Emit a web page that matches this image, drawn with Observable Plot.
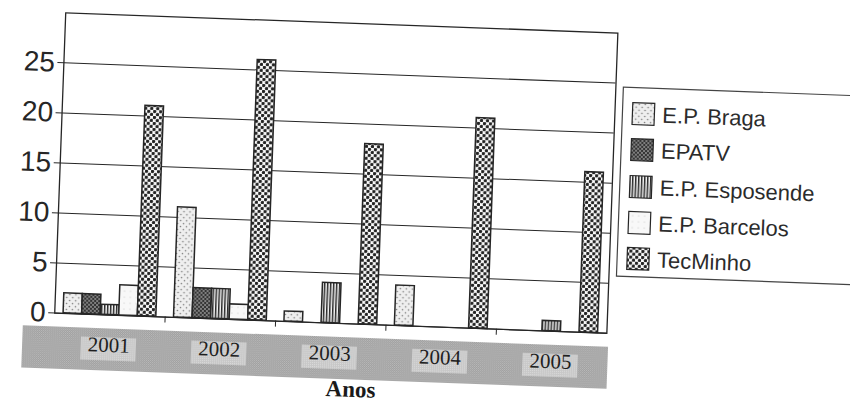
<!DOCTYPE html>
<html>
<head>
<meta charset="utf-8">
<script src="https://cdn.jsdelivr.net/npm/d3@7"></script>
<script src="https://cdn.jsdelivr.net/npm/@observablehq/plot@0.6"></script>
<style>
  html, body { margin: 0; padding: 0; background: #fff; overflow: hidden; }
  #wrap { position: relative; width: 850px; height: 406px; transform: rotate(2.1deg); transform-origin: 425px 203px; }
</style>
</head>
<body>
<div id="wrap"></div>
<script>
// ---- data ----
const years = [2001, 2002, 2003, 2004, 2005];
const seriesNames = ["E.P. Braga", "EPATV", "E.P. Esposende", "E.P. Barcelos", "TecMinho"];
const braga     = [2, 11, 1, 4, 0];
const epatv     = [2, 3, 0, 0, 0];
const esposende = [1, 3, 4, 0, 1];
const barcelos  = [3, 1.5, 0, 0, 0];
const tecminho  = [21, 26, 18, 21, 16];
const yTicks = [0, 5, 10, 15, 20, 25];
const xTitle = "Anos";

const seriesValues = [braga, epatv, esposende, barcelos, tecminho];
const rows = years.flatMap((yr, j) =>
  seriesValues.map((vals, i) => ({ year: yr, i, name: seriesNames[i], value: vals[j] }))
).filter(d => d.value > 0);

const pad = 0.08, w = 0.168;
const ink = "#262626";

const barMarks = seriesNames.map((s, i) =>
  Plot.rectY(rows.filter(d => d.i === i), {
    x1: d => d.year - 0.5 + pad + d.i * w,
    x2: d => d.year - 0.5 + pad + (d.i + 1) * w,
    y1: 0,
    y2: "value",
    fill: `url(#p${i})`,
    stroke: ink,
    strokeWidth: 1.5
  })
);

const chart = Plot.plot({
  width: 850,
  height: 406,
  marginLeft: 58.5,
  marginRight: 239,
  marginTop: 25.6,
  marginBottom: 80,
  x: { domain: [2000.5, 2005.5], axis: null },
  y: { domain: [0, 30], axis: null },
  style: { fontFamily: "'Liberation Sans', Arial, sans-serif", background: "transparent", overflow: "visible" },
  marks: [
    // grey band under the x axis
    Plot.rect([0], { x1: 2000.22, x2: 2005.52, y1: -1.4, y2: -5.6, fill: "url(#band)" }),
    Plot.rect(years, { x1: d => d - 0.25, x2: d => d + 0.25, y1: -2.3, y2: -4.6, fill: "url(#lbl)" }),
    Plot.ruleY(yTicks, { stroke: ink, strokeWidth: 1, insetLeft: -6 }),
    Plot.ruleX([2001.5, 2002.5, 2003.5, 2004.5], { y1: 0, y2: -0.6, stroke: ink }),
    Plot.frame({ stroke: ink, strokeWidth: 1.3 }),
    ...barMarks,
    Plot.text(yTicks, { x: 2000.5, y: d => d, dx: -9, textAnchor: "end", fontSize: 28, fill: "#262626" }),
    Plot.text(years, { x: d => d, frameAnchor: "bottom", dy: 37, fontSize: 21, fill: "#1f1f1f",
      fontFamily: "'Liberation Serif', 'Times New Roman', serif", text: d => String(d) }),
    Plot.text([xTitle], { x: 2003.2, frameAnchor: "bottom", dy: 73, fontSize: 23, fontWeight: "bold",
      fill: "#1a1a1a", fontFamily: "'Liberation Serif', 'Times New Roman', serif" })
  ]
});

document.getElementById("wrap").appendChild(chart);

// ---- patterns ----
const svg = d3.select(chart.tagName.toLowerCase() === "svg" ? chart : chart.querySelector("svg"));
const defs = svg.insert("defs", ":first-child");

function pat(id, size) {
  return defs.append("pattern").attr("id", id).attr("patternUnits", "userSpaceOnUse")
    .attr("width", size).attr("height", size);
}
// E.P. Braga: light with sparse dots
let p = pat("p0", 6);
p.append("rect").attr("width", 6).attr("height", 6).attr("fill", "#efefef");
p.append("circle").attr("cx", 1.5).attr("cy", 1.5).attr("r", 0.8).attr("fill", "#7a7a7a");
p.append("circle").attr("cx", 4.5).attr("cy", 4.5).attr("r", 0.8).attr("fill", "#7a7a7a");
// EPATV: dense dark check with light holes
p = pat("p1", 4);
p.append("rect").attr("width", 4).attr("height", 4).attr("fill", "#333");
p.append("circle").attr("cx", 1).attr("cy", 1).attr("r", 0.8).attr("fill", "#e0e0e0");
p.append("circle").attr("cx", 3).attr("cy", 3).attr("r", 0.8).attr("fill", "#e0e0e0");
// E.P. Esposende: vertical stripes
p = pat("p2", 3);
p.append("rect").attr("width", 3).attr("height", 3).attr("fill", "#f4f4f4");
p.append("rect").attr("width", 1.5).attr("height", 3).attr("fill", "#2a2a2a");
// E.P. Barcelos: nearly white with faint dots
p = pat("p3", 6);
p.append("rect").attr("width", 6).attr("height", 6).attr("fill", "#f8f8f8");
p.append("circle").attr("cx", 2).attr("cy", 2).attr("r", 0.6).attr("fill", "#c4c4c4");
// TecMinho: white with big dark dots
p = pat("p4", 6);
p.append("rect").attr("width", 6).attr("height", 6).attr("fill", "#fdfdfd");
p.append("circle").attr("cx", 1.5).attr("cy", 1.5).attr("r", 1.7).attr("fill", "#222");
p.append("circle").attr("cx", 4.5).attr("cy", 4.5).attr("r", 1.7).attr("fill", "#222");
// grey band
p = pat("band", 2);
p.append("rect").attr("width", 2).attr("height", 2).attr("fill", "#a0a0a0");
p.append("rect").attr("width", 1).attr("height", 1).attr("fill", "#bababa");
p.append("rect").attr("x", 1).attr("y", 1).attr("width", 1).attr("height", 1).attr("fill", "#b0b0b0");
p = pat("lbl", 2);
p.append("rect").attr("width", 2).attr("height", 2).attr("fill", "#c8c8c8");
p.append("rect").attr("width", 1).attr("height", 1).attr("fill", "#dadada");

// ---- legend ----
const lg = svg.append("g").attr("transform", "translate(619,80)").attr("text-anchor", "start");
lg.append("rect").attr("width", 262).attr("height", 189).attr("fill", "#fff").attr("stroke", "#444").attr("stroke-width", 1.2);
const baselines = [34, 70, 107, 143, 179];
seriesNames.forEach((name, i) => {
  lg.append("rect").attr("x", 10).attr("y", baselines[i] - 19).attr("width", 22).attr("height", 22)
    .attr("fill", `url(#p${i})`).attr("stroke", ink).attr("stroke-width", 1.2);
  lg.append("text").attr("x", 40).attr("y", baselines[i]).text(name)
    .attr("text-anchor", "start")
    .attr("font-size", 22).attr("fill", "#2b2b2b")
    .attr("font-family", "'Liberation Sans', Arial, sans-serif");
});
</script>
</body>
</html>
